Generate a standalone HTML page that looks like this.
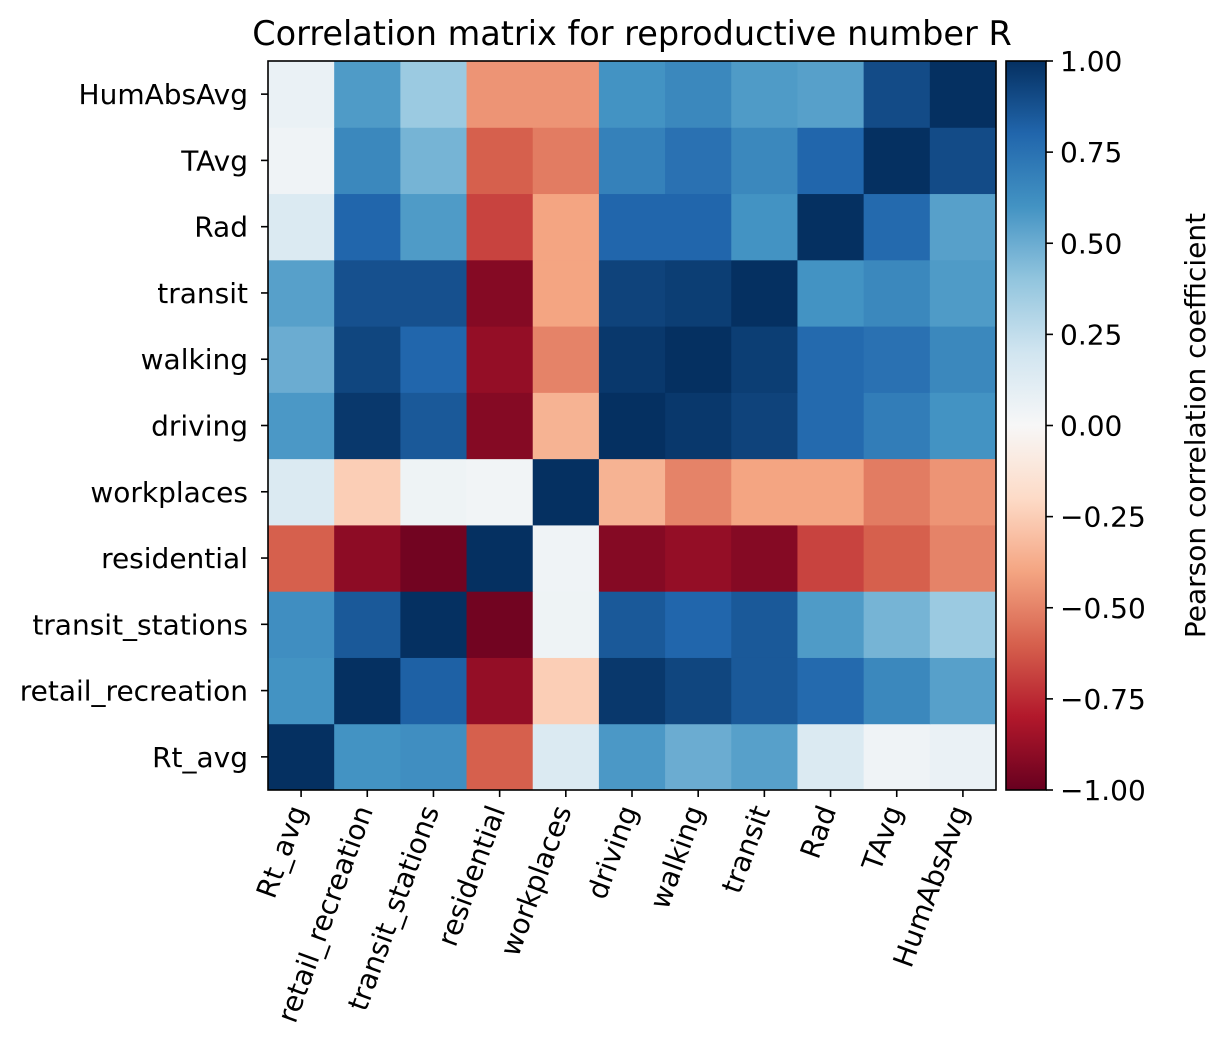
<!DOCTYPE html>
<html><head><meta charset="utf-8"><style>body{margin:0;background:#fff}svg text{font-family:"DejaVu Sans","Liberation Sans",sans-serif;fill:#000}</style></head>
<body>
<svg id="c" width="1206" height="1054" xmlns="http://www.w3.org/2000/svg"></svg>
<script>
const labels = ["Rt_avg","retail_recreation","transit_stations","residential","workplaces","driving","walking","transit","Rad","TAvg","HumAbsAvg"];
const rowRt = [1,0.6,0.62,-0.6,0.15,0.58,0.5,0.55,0.15,0.04,0.07];
const rowRetail = [0.6,1,0.82,-0.88,-0.25,0.97,0.92,0.85,0.78,0.65,0.55];
const rowStations = [0.62,0.85,1,-0.97,0.05,0.85,0.8,0.85,0.57,0.47,0.37];
const rowResidential = [-0.6,-0.9,-0.97,1,0.04,-0.92,-0.88,-0.92,-0.68,-0.6,-0.5];
const rowWorkplaces = [0.15,-0.25,0.05,0.03,1,-0.35,-0.5,-0.4,-0.4,-0.52,-0.45];
const rowDriving = [0.58,0.97,0.85,-0.92,-0.35,1,0.97,0.93,0.78,0.7,0.6];
const rowWalking = [0.5,0.92,0.8,-0.88,-0.5,0.97,1,0.95,0.78,0.75,0.65];
const rowTransit = [0.55,0.88,0.88,-0.92,-0.4,0.93,0.95,1,0.6,0.65,0.57];
const rowRad = [0.15,0.8,0.57,-0.68,-0.4,0.8,0.8,0.6,1,0.78,0.55];
const rowTAvg = [0.04,0.65,0.47,-0.6,-0.52,0.68,0.75,0.65,0.8,1,0.9];
const rowHum = [0.07,0.57,0.37,-0.45,-0.45,0.6,0.65,0.57,0.55,0.9,1];
const matrix = [rowRt,rowRetail,rowStations,rowResidential,rowWorkplaces,rowDriving,rowWalking,rowTransit,rowRad,rowTAvg,rowHum];
const cbTicks = [1,0.75,0.5,0.25,0,-0.25,-0.5,-0.75,-1];

const NS="http://www.w3.org/2000/svg", svg=document.getElementById('c');
function mk(t,a,p){const e=document.createElementNS(NS,t);for(const k in a)e.setAttribute(k,a[k]);(p||svg).appendChild(e);return e;}
const stops=["#67001f","#b2182b","#d6604d","#f4a582","#fddbc7","#f7f7f7","#d1e5f0","#92c5de","#4393c3","#2166ac","#053061"].map(h=>[1,3,5].map(i=>parseInt(h.substr(i,2),16)));
function cmap(v){let t=(Math.max(-1,Math.min(1,v))+1)/2*10;let i=Math.min(9,Math.floor(t)),f=t-i;const a=stops[i],b=stops[i+1];return `rgb(${a.map((x,k)=>Math.round(x+(b[k]-x)*f)).join(',')})`;}
const X0=268,X1=996,Y0=61,Y1=790,n=labels.length,cw=(X1-X0)/n,ch=(Y1-Y0)/n;
const xs=j=>X0+j*cw, ys=i=>Y1-(i+1)*ch;
const FS=28;
let t=mk('text',{x:632,y:45,'font-size':33.5,'text-anchor':'middle'});t.textContent="Correlation matrix for reproductive number R";


matrix.forEach((row,i)=>row.forEach((v,j)=>{
 const r=mk('rect',{x:xs(j),y:ys(i),width:cw+0.5,height:ch+0.5,fill:cmap(v)});
 
 
}));
mk('rect',{x:X0,y:Y0,width:X1-X0,height:Y1-Y0,fill:'none',stroke:'#000','stroke-width':1.6});
labels.forEach((l,i)=>{
 const cy=ys(i)+ch/2, cx=xs(i)+cw/2;
 mk('line',{x1:X0-7,x2:X0,y1:cy,y2:cy,stroke:'#000','stroke-width':1.6});
 const yl=mk('text',{x:X0-20,y:cy+10,'font-size':FS,'text-anchor':'end'});yl.textContent=l;
 
 
 mk('line',{x1:cx,x2:cx,y1:Y1,y2:Y1+7,stroke:'#000','stroke-width':1.6});
 const xl=mk('text',{x:0,y:0,'font-size':FS,'text-anchor':'end',transform:`translate(${cx+6},${Y1+20}) rotate(-70)`});xl.textContent=l;
 
 
});
const g=mk('defs',{});const lg=mk('linearGradient',{id:'cb',x1:0,y1:1,x2:0,y2:0},g);
for(let k=0;k<=20;k++){mk('stop',{offset:k/20,'stop-color':cmap(-1+k/10)},lg);}
const CX0=1006,CX1=1046;
const cb=mk('rect',{x:CX0,y:Y0,width:CX1-CX0,height:Y1-Y0,fill:'url(#cb)',stroke:'#000','stroke-width':1.6});


const cys=v=>Y1-(v+1)/2*(Y1-Y0);
cbTicks.forEach(v=>{
 const y=cys(v);
 mk('line',{x1:CX1,x2:CX1+7,y1:y,y2:y,stroke:'#000','stroke-width':1.6});
 const tl=mk('text',{x:CX1+14,y:y+10,'font-size':FS});tl.textContent=(v<0?'\u2212':'')+Math.abs(v).toFixed(2);
 
 
});
const ct=mk('text',{x:0,y:0,'font-size':FS,'text-anchor':'middle',transform:`translate(1205,${(Y0+Y1)/2}) rotate(-90)`});ct.textContent="Pearson correlation coefficient";


</script>
</body></html>
